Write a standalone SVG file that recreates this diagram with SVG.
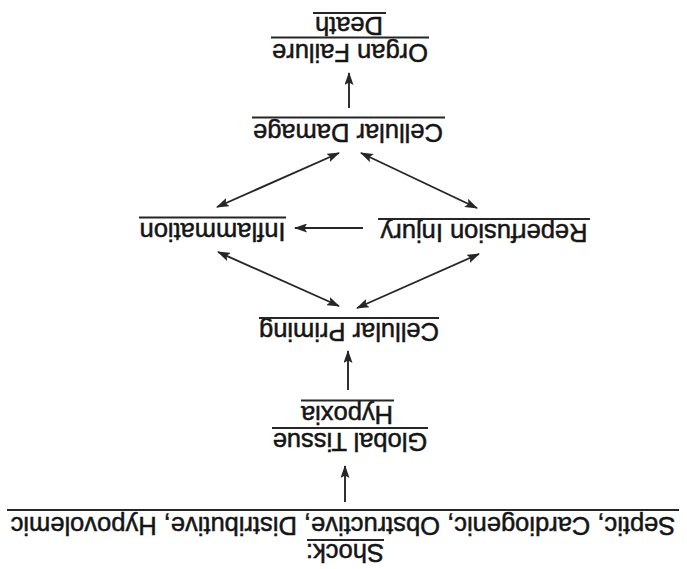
<svg xmlns="http://www.w3.org/2000/svg" width="687" height="569" viewBox="0 0 687 569">
<style>
.lbl{font-family:"Liberation Sans",Arial,Helvetica,sans-serif;font-size:25.5px;fill:#151515;stroke:#151515;stroke-width:0.5;text-anchor:middle}
.ul{stroke:#262626;stroke-width:1.8}
.conn{stroke:#262626;stroke-width:1.9;fill:none}
</style>
<defs>
<marker id="ah" viewBox="0 0 13 9" refX="12" refY="4.5" markerWidth="13" markerHeight="9" markerUnits="userSpaceOnUse" orient="auto-start-reverse">
<path d="M0,0 L13,4.5 L0,9 L2.5,4.5 z" fill="#262626"/>
</marker>
</defs>
<rect width="687" height="569" fill="#ffffff"/>
<g transform="rotate(180 343.5 284.5)">
<g id="shock">
<text class="lbl" x="342" y="25">Shock:</text>
<line class="ul" x1="303" y1="29" x2="380" y2="29"/>
<text class="lbl" x="344" y="52.5">Septic, Cardiogenic, Obstructive, Distributive, Hypovolemic</text>
<line class="ul" x1="8" y1="59" x2="680" y2="59"/>
</g>
<g id="hypoxia">
<text class="lbl" x="337" y="136.5">Global Tissue</text>
<line class="ul" x1="259" y1="141" x2="415" y2="141"/>
<text class="lbl" x="340" y="163.5">Hypoxia</text>
<line class="ul" x1="293" y1="168.5" x2="386" y2="168.5"/>
</g>
<g id="priming">
<text class="lbl" x="338" y="246">Cellular Priming</text>
<line class="ul" x1="248" y1="251" x2="428" y2="251"/>
</g>
<g id="reperfusion">
<text class="lbl" x="203" y="345">Reperfusion Injury</text>
<line class="ul" x1="97" y1="350" x2="309" y2="350"/>
</g>
<g id="inflammation">
<text class="lbl" x="474.5" y="346.5">Inflammation</text>
<line class="ul" x1="401" y1="351.5" x2="548" y2="351.5"/>
</g>
<g id="damage">
<text class="lbl" x="339" y="445.5">Cellular Damage</text>
<line class="ul" x1="242" y1="451.5" x2="435" y2="451.5"/>
</g>
<g id="failure">
<text class="lbl" x="337" y="525">Organ Failure</text>
<line class="ul" x1="258" y1="531.5" x2="416" y2="531.5"/>
<text class="lbl" x="338" y="552">Death</text>
<line class="ul" x1="301" y1="556" x2="374" y2="556"/>
</g>
<g id="connectors">
<line class="conn" x1="342" y1="67" x2="342" y2="103" marker-end="url(#ah)"/>
<line class="conn" x1="339" y1="179" x2="339" y2="218" marker-end="url(#ah)"/>
<line class="conn" x1="338" y1="461" x2="338" y2="496" marker-end="url(#ah)"/>
<line class="conn" x1="324" y1="341" x2="392" y2="341" marker-end="url(#ah)"/>
<line class="conn" x1="348" y1="416" x2="470" y2="362" marker-start="url(#ah)" marker-end="url(#ah)"/>
<line class="conn" x1="326" y1="416" x2="210" y2="361" marker-start="url(#ah)" marker-end="url(#ah)"/>
<line class="conn" x1="469" y1="317" x2="348" y2="263" marker-start="url(#ah)" marker-end="url(#ah)"/>
<line class="conn" x1="208" y1="315" x2="330" y2="261" marker-start="url(#ah)" marker-end="url(#ah)"/>
</g>
</g>
</svg>
